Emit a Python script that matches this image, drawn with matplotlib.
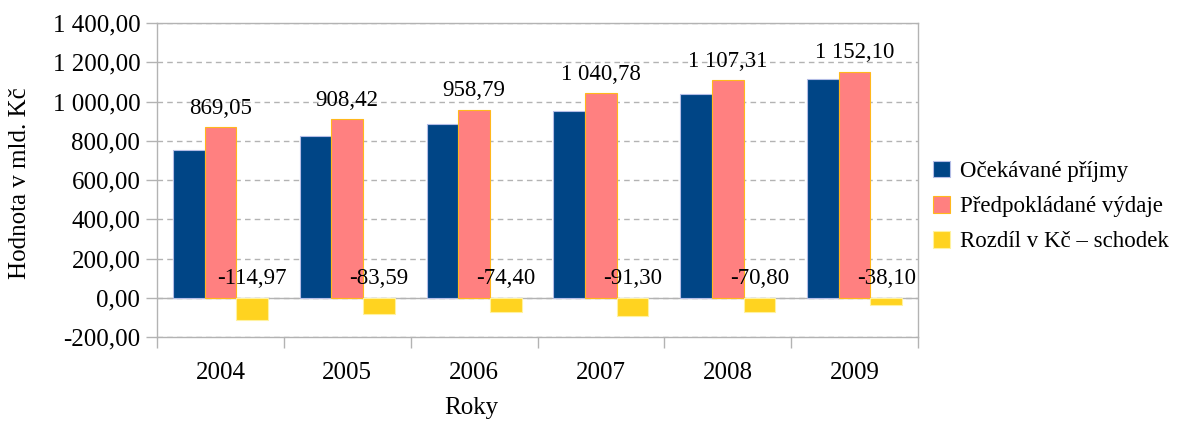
import numpy as np
import matplotlib
matplotlib.use("Agg")
import matplotlib.pyplot as plt
from matplotlib.ticker import FuncFormatter, FixedLocator

###############################################################################
# Data
###############################################################################
years = ["2004", "2005", "2006", "2007", "2008", "2009"]
prijmy = [754.08, 824.83, 884.39, 949.48, 1036.51, 1114.00]   # Očekávané příjmy
vydaje = [869.05, 908.42, 958.79, 1040.78, 1107.31, 1152.10]  # Předpokládané výdaje
schodek = [-114.97, -83.59, -74.40, -91.30, -70.80, -38.10]   # Rozdíl v Kč – schodek

series_names = ["Očekávané příjmy", "Předpokládané výdaje", "Rozdíl v Kč – schodek"]

###############################################################################
# Style
###############################################################################
plt.rcParams["font.family"] = ["Liberation Serif", "DejaVu Serif"]

def cz_num(v):
    # 1 400,00 style
    s = f"{abs(v):,.2f}".replace(",", " ").replace(".", ",")
    return ("-" if v < 0 else "") + s

fig = plt.figure(figsize=(11.8, 4.23), dpi=100)
ax = fig.add_axes([157/1180, 1 - 337/423, (918 - 157)/1180, (337 - 23)/423])

x = np.arange(len(years))
w = 0.25
b1 = ax.bar(x - w, prijmy, w, color="#004586", edgecolor="#b4bde6", linewidth=0.8,
            label=series_names[0], zorder=3)
b2 = ax.bar(x, vydaje, w, color="#ff8080", edgecolor="#ffb81c", linewidth=0.8,
            label=series_names[1], zorder=3)
b3 = ax.bar(x + w, schodek, w, color="#ffd320", edgecolor="#fff2a0", linewidth=0.8,
            label=series_names[2], zorder=3)

# data labels
for xi, v in zip(x, vydaje):
    ax.annotate(cz_num(v), (xi, v), xytext=(0, 6), textcoords="offset points",
                ha="center", va="bottom", fontsize=16.5, zorder=5)
for xi, v in zip(x + w, schodek):
    ax.annotate(cz_num(v), (xi, 0), xytext=(0, 6), textcoords="offset points",
                ha="center", va="bottom", fontsize=16.5, zorder=5)

# axes
ax.set_xlim(-0.5, len(years) - 0.5)
ax.set_ylim(-200, 1400)
ax.set_yticks(np.arange(-200, 1401, 200))
ax.yaxis.set_major_formatter(FuncFormatter(lambda v, p: cz_num(v)))
ax.set_xticks(x)
ax.set_xticklabels(years)
ax.xaxis.set_minor_locator(FixedLocator(np.arange(-0.5, len(years), 1.0)))
ax.tick_params(axis="x", which="major", length=0, pad=18, labelsize=18)
ax.tick_params(axis="x", which="minor", length=8, color="#b3b3b3", width=1)
ax.tick_params(axis="y", length=8, color="#b3b3b3", width=1, labelsize=18, pad=4)

ax.grid(axis="y", color="#b3b3b3", linestyle=(0, (4, 3)), linewidth=1, zorder=0)
ax.axhline(0, color="#b3b3b3", linewidth=1, zorder=1)
for s in ax.spines.values():
    s.set_color("#b3b3b3")
    s.set_linewidth(1)

ax.set_ylabel("Hodnota v mld. Kč", fontsize=18)
ax.yaxis.set_label_coords(-0.166, 0.49)
ax.set_xlabel("Roky", fontsize=18)
ax.xaxis.set_label_coords(0.413, -0.19)

fig.legend(handles=[b1, b2, b3], labels=series_names, loc="center left",
           bbox_to_anchor=(0.773, 0.512), frameon=False, fontsize=16.5,
           handlelength=0.75, handleheight=0.75, handletextpad=0.45, labelspacing=0.6)

fig.savefig("out.png", dpi=100)
